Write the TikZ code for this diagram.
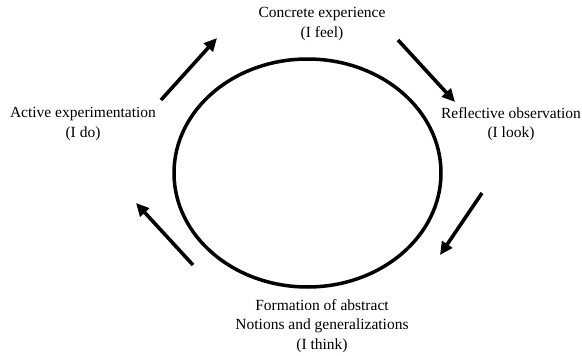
\documentclass[tikz,border=0pt]{standalone}
\usepackage{fontspec}
\setmainfont{Liberation Serif}
\usetikzlibrary{arrows.meta}

\begin{document}
\begin{tikzpicture}[x=1pt, y=-1pt,
    label/.style = {align=center, font=\fontsize{15.5}{19.5}\selectfont, inner sep=0pt},
    cyc/.style = {line width=3.6pt, -{Triangle[length=13pt, width=12pt]}}]
    \useasboundingbox (0,0) rectangle (582,356);
    \draw[line width=3.5pt] (307.5,173) ellipse [x radius=133.5, y radius=114];
    \node[label] (conc) at (322,24) {Concrete experience\\(I feel)};
    \node[label] (refl) at (511,124) {Reflective observation\\(I look)};
    \node[label] (form) at (322,326) {Formation of abstract\\Notions and generalizations\\(I think)};
    \node[label] (act) at (83,124) {Active experimentation\\(I do)};
    \coordinate (a1) at (398,40);  \coordinate (b1) at (455,102);
    \coordinate (a2) at (482,193); \coordinate (b2) at (440,255);
    \coordinate (a3) at (193,265); \coordinate (b3) at (136,203);
    \coordinate (a4) at (161,100); \coordinate (b4) at (217,38);
    \draw[cyc] (a1) -- (b1);
    \draw[cyc] (a2) -- (b2);
    \draw[cyc] (a3) -- (b3);
    \draw[cyc] (a4) -- (b4);
\end{tikzpicture}
\end{document}
